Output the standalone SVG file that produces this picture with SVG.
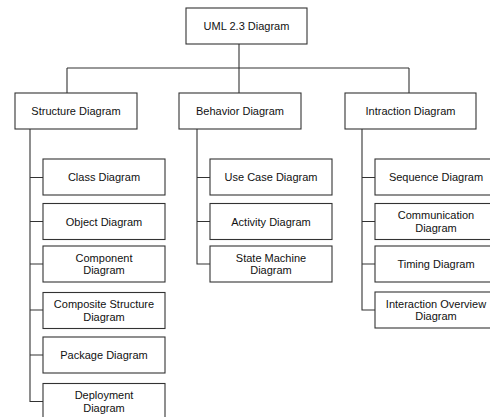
<svg xmlns="http://www.w3.org/2000/svg" width="490" height="417" viewBox="0 0 490 417">
<style>
.box{fill:#fff;stroke:#333;stroke-width:1.1}
.ln{fill:none;stroke:#333;stroke-width:1.1}
text{font-family:"Liberation Sans",Arial,sans-serif;font-size:11px;fill:#111;text-anchor:middle}
</style>
<rect width="490" height="417" fill="#fff"/>
<g id="connectors">
<path class="ln" d="M239,44V93M67,68H409M67,68V93M409,68V93"/>
<path class="ln" d="M30,129V401.5H43M30,177.5H43M30,221.5H43M30,264H43M30,310H43M30,355H43"/>
<path class="ln" d="M197,129V264H210M197,177.5H210M197,221.5H210"/>
<path class="ln" d="M362,129V310H375M362,177.5H375M362,221.5H375M362,264H375"/>
</g>
<g id="root"><rect class="box" x="186" y="8" width="121" height="36"/><text x="246.5" y="30">UML 2.3 Diagram</text></g>
<g id="structure"><rect class="box" x="15" y="93" width="122" height="36"/><text x="76" y="115">Structure Diagram</text></g>
<g id="behavior"><rect class="box" x="179" y="93" width="122" height="36"/><text x="240" y="115">Behavior Diagram</text></g>
<g id="interaction"><rect class="box" x="345" y="93" width="131" height="36"/><text x="410.5" y="115">Intraction Diagram</text></g>
<g id="class"><rect class="box" x="43" y="159" width="122" height="36"/><text x="104" y="181">Class Diagram</text></g>
<g id="object"><rect class="box" x="43" y="203.5" width="122" height="36"/><text x="104" y="225.5">Object Diagram</text></g>
<g id="component"><rect class="box" x="43" y="246" width="122" height="36"/><text x="104" y="261.5">Component</text><text x="104" y="274">Diagram</text></g>
<g id="composite"><rect class="box" x="43" y="292.5" width="122" height="36"/><text x="104" y="308">Composite Structure</text><text x="104" y="320.5">Diagram</text></g>
<g id="package"><rect class="box" x="43" y="337" width="122" height="36"/><text x="104" y="359">Package Diagram</text></g>
<g id="deployment"><rect class="box" x="43" y="383.5" width="122" height="36"/><text x="104" y="399">Deployment</text><text x="104" y="411.5">Diagram</text></g>
<g id="usecase"><rect class="box" x="210" y="159" width="122" height="36"/><text x="271" y="181">Use Case Diagram</text></g>
<g id="activity"><rect class="box" x="210" y="203.5" width="122" height="36"/><text x="271" y="225.5">Activity Diagram</text></g>
<g id="statemachine"><rect class="box" x="210" y="246" width="122" height="36"/><text x="271" y="261.5">State Machine</text><text x="271" y="274">Diagram</text></g>
<g id="sequence"><rect class="box" x="375" y="159" width="122" height="36"/><text x="436" y="181">Sequence Diagram</text></g>
<g id="communication"><rect class="box" x="375" y="203.5" width="122" height="36"/><text x="436" y="219">Communication</text><text x="436" y="231.5">Diagram</text></g>
<g id="timing"><rect class="box" x="375" y="246" width="122" height="36"/><text x="436" y="268">Timing Diagram</text></g>
<g id="overview"><rect class="box" x="375" y="292" width="122" height="36"/><text x="436" y="307.5">Interaction Overview</text><text x="436" y="320">Diagram</text></g>
</svg>
